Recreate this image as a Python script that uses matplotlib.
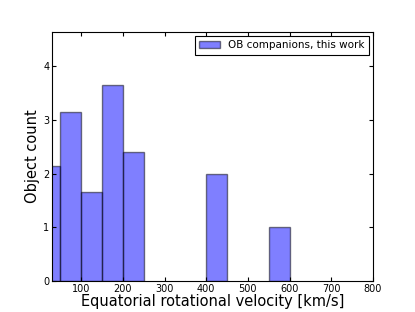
import matplotlib
matplotlib.use("Agg")
import matplotlib.pyplot as plt

bin_left = [0, 50, 100, 150, 200, 400, 550]
bin_width = 50
counts = [2.15, 3.15, 1.65, 3.65, 2.4, 2.0, 1.0]
xticks = [100, 200, 300, 400, 500, 600, 700, 800]
yticks = [0, 1, 2, 3, 4]

fig = plt.figure(figsize=(4.15, 3.12), dpi=100)
ax = fig.add_axes([52/415, 1-281/312, (373-52)/415, (281-32)/312])
ax.bar(bin_left, counts, width=bin_width, align='edge', color='blue', alpha=0.5,
       edgecolor='black', linewidth=1.0, label='OB companions, this work')
ax.set_xlim(30, 800)
ax.set_ylim(0, 4.64)
ax.set_xticks(xticks)
ax.set_yticks(yticks)
ax.tick_params(direction='in', top=True, right=True, labelsize=7, length=3, pad=2)
ax.set_xlabel('Equatorial rotational velocity [km/s]', fontsize=10.5, labelpad=0.5)
ax.set_ylabel('Object count', fontsize=10.5, labelpad=2.5)
leg = ax.legend(loc='upper right', fontsize=7.5, fancybox=False, framealpha=1,
                edgecolor='black', borderaxespad=0.4, handlelength=2.0)
leg.get_frame().set_linewidth(0.8)
fig.savefig('out.png', dpi=100)
